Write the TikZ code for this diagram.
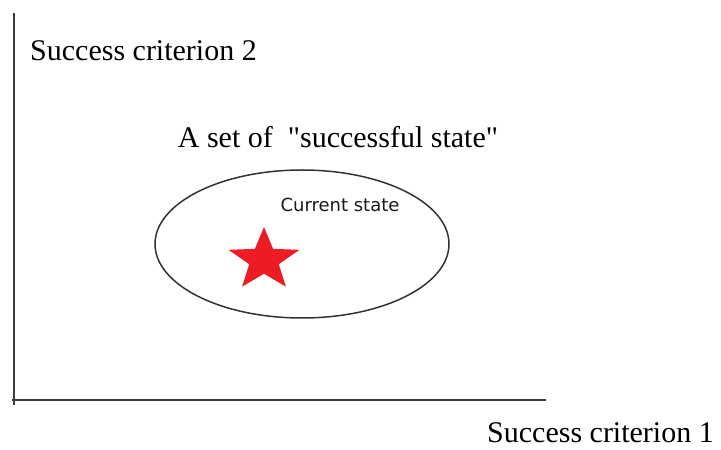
\documentclass[tikz,border=0pt]{standalone}
\usepackage{fontspec}
\setmainfont{Liberation Serif}
\newfontfamily\labelfont{DejaVu Sans}
\usetikzlibrary{shapes, positioning}
\definecolor{starred}{RGB}{237,28,36}
\definecolor{axisgray}{RGB}{60,60,60}
\tikzset{
    textnode/.style = {draw=none, fill=none, rectangle, inner sep=0em, 
      font=\fontsize{30}{36}\selectfont},
    smalltextnode/.style = {draw=none, fill=none, rectangle, inner sep=0em, 
      font=\labelfont\fontsize{18}{22}\selectfont, text=black!90},
    axisline/.style = {draw=axisgray, line width=2pt},
    setnode/.style = {draw=black!80, ellipse, line width=1.5pt, inner sep=0em, 
      minimum width=294pt, minimum height=148pt},
    starnode/.style = {star, star points=5, star point ratio=2.4, fill=starred, 
      draw=none, inner sep=0em, minimum size=66pt, transform shape, xscale=1.13}
}

\begin{document}
\begin{tikzpicture}[x=1pt, y=1pt]
    \useasboundingbox (0,0) rectangle (721,450);

    % axes
    \coordinate (ytop) at (14,437);
    \coordinate (ybot) at (14,45);
    \coordinate (xstart) at (12,50);
    \coordinate (xend) at (546,50);
    \draw [axisline] (ytop) -- (ybot);
    \draw [axisline] (xstart) -- (xend);

    \node [name=crit2, textnode, anchor=west] at (30,399) {Success criterion 2};
    \node [name=crit1, textnode, anchor=east] at (714,17) {Success criterion 1};

    % set of successful states
    \node [name=successset, setnode] at (302,206) {};
    \node [name=settitle, textnode] at (338,313) 
        {A set of\ \ \textquotedbl successful state\textquotedbl};
    \node [name=current, smalltextnode] at (340,245) {Current state};
    \node [name=currentstar, starnode] at (264,190) {};
\end{tikzpicture}
\end{document}
